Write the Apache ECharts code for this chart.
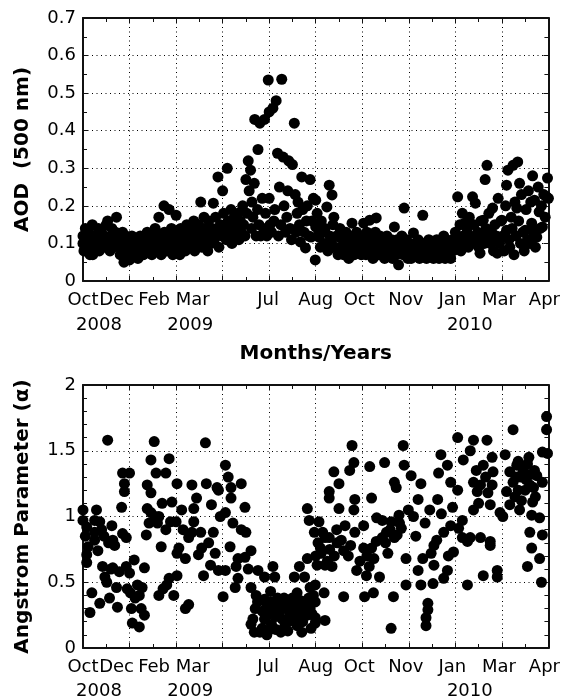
<!DOCTYPE html>
<html>
<head>
<meta charset="utf-8">
<script src="https://cdn.jsdelivr.net/npm/echarts@6/dist/echarts.min.js"></script>
<style>
html,body{margin:0;padding:0;background:#fff;}
#chart{width:571px;height:700px;}
</style>
</head>
<body>
<div id="chart"></div>
<script>
// ---- data ----
const monthLabels = ['Oct','Dec','Feb','Mar','Jul','Aug','Oct','Nov','Jan','Mar','Apr'];
const yearLabels  = ['2008','','2009','','','','','','2010','',''];
const aodTitle = 'AOD  (500 nm)';
const alphaTitle = 'Angstrom Parameter (\u03b1)';
const xTitle = 'Months/Years';

// AOD (500 nm) points: [x tick position, value]
const aodPoints = [
[0.00,0.10],[0.00,0.12],[0.02,0.08],[0.05,0.14],[0.08,0.11],[0.10,0.09],[0.12,0.13],[0.15,0.07],[0.18,0.10],[0.20,0.15],
[0.21,0.07],[0.25,0.12],[0.28,0.09],[0.30,0.11],[0.33,0.14],[0.35,0.08],[0.38,0.10],[0.40,0.13],[0.43,0.12],[0.45,0.09],
[0.48,0.11],[0.50,0.15],[0.53,0.16],[0.55,0.10],[0.58,0.08],[0.60,0.12],[0.62,0.14],[0.65,0.09],[0.68,0.11],[0.70,0.13],
[0.72,0.17],[0.75,0.10],[0.78,0.12],[0.80,0.07],[0.82,0.09],[0.85,0.13],[0.88,0.05],[0.90,0.10],[0.92,0.12],[0.95,0.08],
[0.97,0.06],[1.00,0.10],
[1.00,0.056],[1.03,0.09],[1.05,0.12],[1.08,0.07],[1.10,0.10],[1.13,0.08],[1.15,0.11],[1.18,0.06],[1.20,0.09],[1.23,0.12],
[1.25,0.08],[1.28,0.10],[1.30,0.07],[1.33,0.11],[1.35,0.09],[1.38,0.13],[1.40,0.08],[1.43,0.10],[1.45,0.12],[1.48,0.07],
[1.50,0.09],[1.53,0.11],[1.55,0.14],[1.58,0.08],[1.60,0.10],[1.63,0.17],[1.65,0.12],[1.68,0.07],[1.70,0.09],[1.74,0.20],
[1.75,0.13],[1.78,0.10],[1.80,0.08],[1.83,0.12],[1.85,0.19],[1.88,0.10],[1.90,0.14],[1.93,0.07],[1.95,0.11],[1.98,0.09],
[2.00,0.175],
[2.02,0.12],[2.05,0.10],[2.08,0.07],[2.10,0.14],[2.13,0.09],[2.15,0.11],[2.18,0.13],[2.20,0.08],[2.23,0.15],[2.25,0.10],
[2.28,0.12],[2.30,0.09],[2.33,0.14],[2.35,0.11],[2.38,0.16],[2.40,0.08],[2.43,0.13],[2.45,0.10],[2.48,0.15],[2.50,0.12],
[2.53,0.21],[2.55,0.09],[2.58,0.14],[2.60,0.17],[2.63,0.11],[2.65,0.13],[2.68,0.08],[2.70,0.16],[2.73,0.12],[2.75,0.10],
[2.78,0.14],[2.80,0.207],[2.82,0.11],[2.85,0.17],[2.88,0.13],[2.90,0.277],[2.92,0.09],[2.95,0.15],[2.98,0.12],[3.00,0.24],
[3.02,0.18],[3.05,0.14],[3.08,0.11],[3.10,0.30],[3.12,0.16],[3.15,0.13],[3.18,0.19],[3.20,0.10],[3.23,0.15],[3.25,0.17],
[3.28,0.12],[3.30,0.14],[3.33,0.18],[3.35,0.11],[3.38,0.16],[3.40,0.13],[3.43,0.20],[3.45,0.15],[3.48,0.12],[3.50,0.27],
[3.52,0.18],[3.55,0.32],[3.57,0.24],[3.60,0.295],[3.62,0.14],[3.63,0.21],[3.65,0.17],[3.68,0.26],[3.69,0.43],[3.72,0.12],
[3.75,0.19],[3.76,0.35],[3.78,0.15],[3.80,0.42],[3.82,0.12],[3.85,0.22],[3.88,0.14],[3.90,0.43],[3.92,0.18],[3.95,0.12],
[3.98,0.535],[4.00,0.45],
[4.00,0.22],[4.02,0.15],[4.05,0.13],[4.08,0.46],[4.10,0.16],[4.12,0.19],[4.15,0.48],[4.18,0.34],[4.20,0.12],[4.22,0.25],
[4.25,0.15],[4.27,0.537],[4.30,0.33],[4.32,0.20],[4.35,0.13],[4.38,0.17],[4.40,0.24],[4.42,0.32],[4.45,0.14],[4.48,0.11],
[4.50,0.31],[4.54,0.42],[4.56,0.23],[4.58,0.13],[4.60,0.18],[4.62,0.21],[4.65,0.15],[4.67,0.104],[4.70,0.277],[4.72,0.19],
[4.75,0.13],[4.78,0.088],[4.80,0.16],[4.82,0.20],[4.85,0.12],[4.88,0.27],[4.90,0.117],[4.92,0.16],[4.95,0.22],[4.99,0.056],
[5.00,0.215],[5.00,0.144],[5.03,0.18],[5.05,0.12],[5.07,0.117],[5.10,0.09],[5.12,0.16],[5.15,0.13],[5.18,0.10],[5.20,0.14],
[5.24,0.197],[5.26,0.08],[5.29,0.255],[5.30,0.12],[5.33,0.10],[5.35,0.229],[5.37,0.15],[5.39,0.17],[5.42,0.09],[5.45,0.12],
[5.48,0.07],[5.50,0.117],[5.52,0.14],[5.55,0.09],[5.58,0.11],[5.60,0.07],[5.63,0.09],[5.65,0.13],[5.68,0.10],[5.71,0.06],
[5.73,0.12],[5.75,0.08],[5.78,0.154],[5.80,0.10],[5.83,0.07],[5.85,0.11],[5.88,0.13],[5.90,0.08],[5.93,0.10],[5.96,0.12],
[5.98,0.07],
[6.00,0.09],[6.03,0.154],[6.05,0.11],[6.08,0.07],[6.10,0.13],[6.13,0.09],[6.16,0.162],[6.18,0.08],[6.20,0.11],[6.23,0.06],
[6.25,0.10],[6.28,0.13],[6.30,0.168],[6.32,0.09],[6.35,0.07],[6.38,0.12],[6.40,0.10],[6.43,0.08],[6.45,0.11],[6.48,0.06],
[6.50,0.09],[6.53,0.12],[6.55,0.07],[6.58,0.10],[6.60,0.08],[6.63,0.11],[6.65,0.06],[6.69,0.144],[6.70,0.09],[6.73,0.07],
[6.75,0.11],[6.78,0.043],[6.80,0.08],[6.83,0.10],[6.85,0.12],[6.88,0.07],[6.90,0.194],[6.92,0.09],[6.95,0.11],[6.98,0.06],
[7.00,0.08],[7.03,0.10],[7.05,0.06],[7.08,0.09],[7.10,0.128],[7.13,0.07],[7.15,0.10],[7.18,0.08],[7.20,0.11],[7.23,0.06],
[7.25,0.09],[7.28,0.07],[7.30,0.175],[7.32,0.10],[7.35,0.08],[7.38,0.06],[7.40,0.09],[7.43,0.11],[7.45,0.07],[7.48,0.08],
[7.50,0.10],[7.53,0.06],[7.55,0.09],[7.58,0.07],[7.60,0.11],[7.63,0.08],[7.65,0.06],[7.68,0.10],[7.70,0.07],[7.73,0.09],
[7.75,0.12],[7.78,0.06],[7.80,0.08],[7.83,0.10],[7.85,0.07],[7.88,0.09],[7.90,0.06],[7.93,0.11],[7.95,0.08],[7.98,0.10],
[8.00,0.13],[8.03,0.09],[8.05,0.224],[8.07,0.11],[8.10,0.15],[8.12,0.08],[8.15,0.18],[8.17,0.12],[8.20,0.154],[8.22,0.10],
[8.25,0.14],[8.28,0.09],[8.30,0.17],[8.32,0.12],[8.35,0.10],[8.37,0.224],[8.40,0.15],[8.43,0.207],[8.45,0.11],[8.48,0.13],
[8.50,0.09],[8.53,0.074],[8.55,0.16],[8.58,0.12],[8.60,0.162],[8.62,0.10],[8.64,0.27],[8.66,0.14],[8.68,0.308],[8.70,0.11],
[8.72,0.18],[8.75,0.10],[8.78,0.13],[8.80,0.194],[8.82,0.08],[8.85,0.15],[8.88,0.12],[8.90,0.074],[8.92,0.22],[8.95,0.10],
[8.98,0.16],
[9.00,0.162],[9.02,0.12],[9.05,0.08],[9.08,0.20],[9.10,0.255],[9.10,0.135],[9.13,0.295],[9.15,0.11],[9.17,0.09],[9.20,0.17],
[9.22,0.14],[9.24,0.308],[9.26,0.07],[9.28,0.21],[9.30,0.12],[9.32,0.194],[9.34,0.317],[9.36,0.16],[9.38,0.26],[9.40,0.10],
[9.42,0.23],[9.45,0.13],[9.48,0.08],[9.50,0.135],[9.52,0.19],[9.55,0.11],[9.57,0.24],[9.60,0.10],[9.62,0.21],[9.64,0.154],
[9.66,0.28],[9.68,0.13],[9.70,0.215],[9.72,0.09],[9.75,0.117],[9.78,0.25],[9.80,0.184],[9.82,0.14],[9.85,0.20],[9.87,0.144],
[9.90,0.23],[9.93,0.17],[9.96,0.224],[9.98,0.274],[10.0,0.22]
];

// Angstrom parameter points: [x tick position, value]
const alphaPoints = [
[0.00,1.05],[0.00,0.97],[0.08,0.92],[0.11,0.77],[0.08,0.71],[0.08,0.65],[0.05,0.85],[0.15,0.27],[0.19,0.42],[0.25,0.97],
[0.25,0.88],[0.25,0.82],[0.29,1.05],[0.32,0.74],[0.36,0.96],[0.36,0.34],[0.40,0.90],[0.42,0.62],[0.45,0.85],[0.47,0.54],
[0.51,0.50],[0.53,1.58],[0.55,0.80],[0.57,0.38],[0.60,0.60],[0.62,0.93],[0.64,0.82],[0.64,0.61],[0.68,0.78],[0.72,0.46],
[0.74,0.31],[0.78,0.58],[0.83,1.07],[0.85,1.33],[0.85,0.87],[0.89,1.25],[0.89,1.19],[0.93,0.84],[0.93,0.62],[0.95,0.45],
[1.00,1.33],[1.00,0.57],[1.02,0.42],[1.04,0.30],[1.06,0.19],
[1.10,0.67],[1.12,0.38],[1.17,0.48],[1.21,0.40],[1.21,0.16],[1.25,0.30],[1.27,0.46],[1.32,0.61],[1.32,0.25],[1.36,0.86],
[1.38,1.24],[1.38,1.06],[1.42,0.95],[1.46,1.43],[1.46,1.18],[1.46,1.03],[1.53,1.57],[1.55,1.00],[1.57,1.33],[1.60,0.95],
[1.63,1.00],[1.63,0.40],[1.68,0.77],[1.70,1.10],[1.72,0.45],[1.78,1.33],[1.78,0.90],[1.80,0.48],[1.85,1.44],[1.85,0.53],
[1.88,0.96],[1.91,1.11],[1.95,0.40],[2.00,0.96],
[2.02,1.25],[2.02,0.72],[2.02,0.55],[2.06,0.76],[2.12,1.05],[2.15,0.90],[2.20,0.68],[2.20,0.30],[2.27,0.84],[2.27,0.33],
[2.34,1.24],[2.34,0.88],[2.38,1.06],[2.38,0.96],[2.44,1.14],[2.48,0.71],[2.53,0.88],[2.55,0.76],[2.59,0.55],[2.63,1.56],
[2.65,1.25],[2.70,0.80],[2.74,0.63],[2.76,1.09],[2.80,0.88],[2.84,0.72],[2.88,1.22],[2.91,1.20],[2.91,0.59],[2.95,1.00],
[3.01,0.39],
[3.06,1.39],[3.06,1.03],[3.06,0.59],[3.12,1.30],[3.16,0.77],[3.18,1.22],[3.18,1.14],[3.22,0.95],[3.27,0.46],[3.29,0.62],
[3.33,0.68],[3.33,0.53],[3.40,1.25],[3.40,0.90],[3.48,1.07],[3.48,0.69],[3.50,0.88],[3.55,0.60],[3.61,0.74],[3.61,0.46],
[3.61,0.18],[3.65,0.22],[3.68,0.12],[3.70,0.30],[3.72,0.40],[3.75,0.35],[3.76,0.59],[3.80,0.12],[3.85,0.28],[3.85,0.15],
[3.90,0.54],[3.90,0.37],[3.90,0.22],[3.95,0.32],[3.95,0.10],[4.00,0.26],
[4.01,0.14],[4.03,0.43],[4.05,0.35],[4.05,0.18],[4.08,0.62],[4.10,0.30],[4.12,0.54],[4.15,0.24],[4.15,0.14],[4.18,0.38],
[4.20,0.33],[4.22,0.28],[4.25,0.12],[4.28,0.22],[4.29,0.33],[4.32,0.38],[4.33,0.16],[4.35,0.30],[4.40,0.35],[4.40,0.13],
[4.42,0.20],[4.44,0.27],[4.46,0.25],[4.48,0.30],[4.50,0.38],[4.52,0.33],[4.54,0.54],[4.54,0.23],[4.55,0.28],[4.58,0.35],
[4.60,0.42],[4.60,0.17],[4.62,0.30],[4.65,0.62],[4.65,0.26],[4.68,0.36],[4.70,0.31],[4.70,0.12],[4.72,0.20],[4.75,0.28],
[4.76,0.54],[4.76,0.35],[4.80,0.32],[4.82,1.06],[4.82,0.68],[4.82,0.25],[4.85,0.38],[4.86,0.97],[4.88,0.46],[4.88,0.30],
[4.90,0.15],[4.92,0.26],[4.95,0.40],[4.97,0.88],[4.99,0.48],[4.99,0.35],[4.99,0.23],[4.99,0.19],
[5.00,0.70],[5.03,0.63],[5.05,0.80],[5.07,0.96],[5.10,0.76],[5.12,0.72],[5.15,0.88],[5.18,0.42],[5.20,0.84],[5.20,0.63],
[5.20,0.21],[5.25,0.66],[5.29,1.19],[5.29,1.14],[5.29,0.84],[5.30,0.75],[5.35,0.62],[5.39,1.34],[5.40,0.70],[5.45,0.90],
[5.46,0.80],[5.50,1.25],[5.50,1.06],[5.55,0.82],[5.60,0.74],[5.60,0.39],[5.63,0.93],[5.70,0.70],[5.73,1.35],[5.75,0.78],
[5.78,1.54],[5.82,1.41],[5.82,1.05],[5.84,1.13],[5.84,0.88],[5.88,0.59],[5.95,0.66],
[6.03,0.93],[6.03,0.76],[6.05,0.39],[6.09,0.55],[6.10,0.70],[6.15,0.62],[6.16,1.38],[6.20,1.14],[6.20,0.76],[6.24,0.42],
[6.25,0.68],[6.30,0.81],[6.31,0.99],[6.37,0.54],[6.43,0.97],[6.43,0.84],[6.48,1.41],[6.50,0.80],[6.52,0.88],[6.55,0.72],
[6.60,0.90],[6.62,0.96],[6.62,0.15],[6.67,0.39],[6.69,1.26],[6.69,0.84],[6.73,1.22],[6.75,0.86],[6.79,1.01],[6.80,0.95],
[6.84,0.91],[6.88,1.54],[6.90,1.39],[6.94,0.68],[6.94,0.48],[6.99,1.05],
[7.05,1.31],[7.10,1.00],[7.15,0.85],[7.20,1.13],[7.20,0.59],[7.26,1.25],[7.26,0.48],[7.30,0.68],[7.35,0.95],[7.37,0.23],
[7.37,0.17],[7.41,0.34],[7.41,0.29],[7.45,1.05],[7.48,0.72],[7.52,0.49],[7.54,0.78],[7.54,0.63],[7.60,0.82],[7.62,1.13],
[7.64,1.33],[7.69,1.47],[7.70,1.02],[7.75,0.88],[7.75,0.53],[7.83,1.39],[7.83,0.59],[7.85,0.70],[7.90,1.26],[7.90,0.93],
[7.94,1.07],[7.96,0.73],
[8.05,1.60],[8.05,1.20],[8.07,0.91],[8.15,0.97],[8.15,0.84],[8.17,1.43],[8.26,0.81],[8.26,0.48],[8.32,1.50],[8.32,0.84],
[8.39,1.58],[8.39,1.26],[8.39,1.05],[8.45,1.35],[8.47,1.19],[8.50,1.10],[8.54,1.24],[8.54,0.84],[8.60,1.39],[8.60,0.55],
[8.65,1.30],[8.68,1.58],[8.70,1.18],[8.75,1.09],[8.75,0.81],[8.75,0.78],[8.79,1.45],[8.79,1.24],[8.81,1.34],[8.90,0.59],
[8.90,0.54],[8.96,1.03],
[9.02,1.00],[9.07,1.47],[9.10,1.19],[9.17,1.34],[9.17,1.09],[9.24,1.66],[9.24,1.26],[9.28,1.15],[9.30,1.30],[9.32,1.39],
[9.35,1.20],[9.35,1.42],[9.38,1.05],[9.40,1.30],[9.42,1.12],[9.45,1.34],[9.48,1.38],[9.50,1.20],[9.52,1.28],[9.55,0.62],
[9.55,1.40],[9.58,1.45],[9.60,1.24],[9.60,0.88],[9.62,1.32],[9.64,1.01],[9.64,0.76],[9.66,1.11],[9.68,1.22],[9.70,1.35],
[9.72,1.15],[9.75,1.31],[9.81,0.99],[9.81,0.68],[9.85,0.50],[9.87,1.26],[9.87,0.86],[9.87,1.49],[9.96,1.76],[9.96,1.66],
[9.98,1.48]
];

// ---- layout / style ----
const FONT = 'DejaVu Sans';
const monthShift = [0,-13,-22,-30,-1,0,-3,-3,-3,-3,-4];
const yearShift  = [16,0,13,0,0,0,0,0,10,0,0];
const pad = s => s < 0 ? [0, -2*s, 0, 0] : [0, 0, 0, 2*s];
const richM = {}, richY = {};
monthLabels.forEach((m, i) => {
  richM['m'+i] = {fontFamily: FONT, fontSize: 18, color: '#000', lineHeight: 25, padding: pad(monthShift[i])};
  richY['y'+i] = {fontFamily: FONT, fontSize: 18, color: '#000', lineHeight: 25, padding: pad(yearShift[i])};
});
const monthFmt = v => { const i = Math.round(v); return '{m'+i+'|' + monthLabels[i] + '}'; };
const yearFmt = v => { const i = Math.round(v); return yearLabels[i] ? '{y'+i+'|' + yearLabels[i] + '}' : ''; };

const dotted = {show: true, lineStyle: {color: '#000', width: 1, type: [1, 3.5]}};
const lineBox = {show: true, onZero: false, lineStyle: {color: '#111', width: 2}};
const tick = {show: true, inside: true, length: 5, lineStyle: {color: '#111', width: 1}};
const minor = n => ({show: true, splitNumber: n, length: 4, lineStyle: {color: '#111', width: 1}});
const hidden = {show: false};

const plotGrids = [
  {left: 83, top: 18, width: 471, height: 263},
  {left: 83, top: 385, width: 471, height: 263}
];

function xAxes(gridIndex, withName) {
  return [
    {type: 'value', gridIndex, min: 0, max: 10, interval: 1, position: 'bottom',
     axisLine: lineBox, axisTick: tick, minorTick: minor(2), splitLine: dotted,
     axisLabel: {formatter: monthFmt, rich: richM, margin: 7, color: '#000', showMinLabel: true, showMaxLabel: true, hideOverlap: false},
     name: withName ? xTitle : '', nameLocation: 'middle', nameGap: 63,
     nameTextStyle: {fontFamily: FONT, fontWeight: 'bold', fontSize: 20, color: '#000'}},
    {type: 'value', gridIndex, min: 0, max: 10, interval: 1, position: 'top',
     axisLine: lineBox, axisTick: tick, minorTick: minor(2), splitLine: hidden,
     axisLabel: hidden}
  ];
}
function yearAxis(gridIndex) {
  return {type: 'value', gridIndex, min: 0, max: 10, interval: 1, position: 'bottom',
    axisLine: hidden, axisTick: hidden, splitLine: hidden,
    axisLabel: {formatter: yearFmt, rich: richY, margin: 32, color: '#000', showMinLabel: true, showMaxLabel: true, hideOverlap: false}};
}
function yAxes(gridIndex, max, interval, minorN, title, fmt) {
  return [
    {type: 'value', gridIndex, min: 0, max, interval, position: 'left',
     axisLine: lineBox, axisTick: tick, minorTick: minor(minorN), splitLine: dotted,
     axisLabel: {formatter: fmt, margin: 7, fontFamily: FONT, fontSize: 18, color: '#000', showMinLabel: true, showMaxLabel: true},
     name: title, nameLocation: 'middle', nameGap: 50,
     nameTextStyle: {fontFamily: FONT, fontWeight: 'bold', fontSize: 20, color: '#000'}},
    {type: 'value', gridIndex, min: 0, max, interval, position: 'right',
     axisLine: lineBox, axisTick: tick, minorTick: minor(minorN), splitLine: hidden,
     axisLabel: hidden}
  ];
}
function hiddenY(gridIndex) {
  return {type: 'value', gridIndex, min: 0, max: 1, show: false};
}

const chart = echarts.init(document.getElementById('chart'), null, {renderer: 'canvas'});
chart.setOption({
  backgroundColor: '#fff',
  animation: false,
  textStyle: {fontFamily: FONT},
  grid: [plotGrids[0], plotGrids[1], plotGrids[0], plotGrids[1]],
  xAxis: [...xAxes(0, true), ...xAxes(1, false), yearAxis(2), yearAxis(3)],
  yAxis: [
    ...yAxes(0, 0.7, 0.1, 2, aodTitle, v => v === 0 ? '0' : v.toFixed(1)),
    ...yAxes(1, 2, 0.5, 5, alphaTitle, v => String(v)),
    hiddenY(2), hiddenY(3)
  ],
  series: [
    {type: 'scatter', xAxisIndex: 0, yAxisIndex: 0, data: aodPoints, symbol: 'circle', symbolSize: 11,
     itemStyle: {color: '#000', opacity: 1}, z: 3},
    {type: 'scatter', xAxisIndex: 2, yAxisIndex: 2, data: alphaPoints, symbol: 'circle', symbolSize: 11,
     itemStyle: {color: '#000', opacity: 1}, z: 3}
  ]
});
</script>
</body>
</html>
